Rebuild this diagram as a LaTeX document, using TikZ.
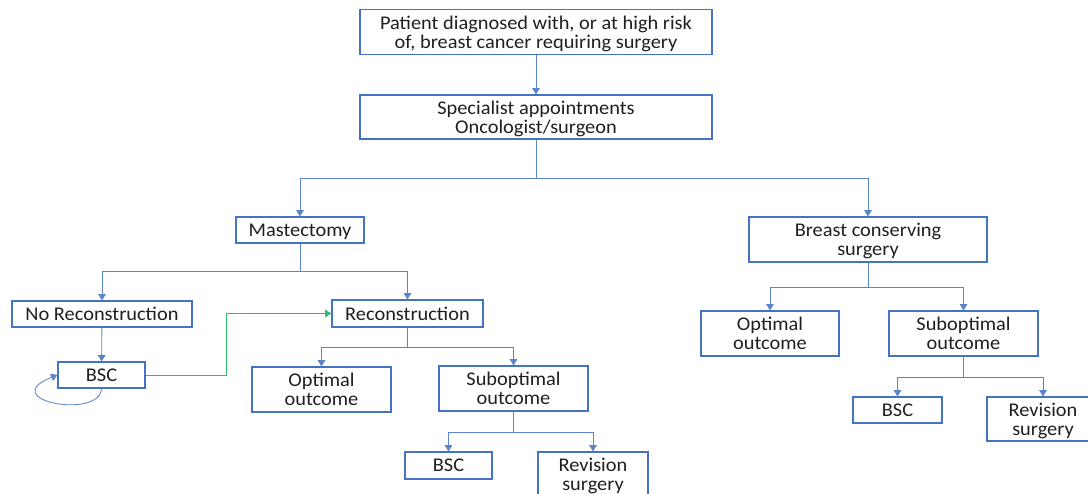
\documentclass[tikz,border=0pt]{standalone}
\usepackage{fontspec}
\setmainfont{Carlito}[FakeStretch=1.05]
\usetikzlibrary{arrows.meta,positioning}

\definecolor{boxblue}{HTML}{4472C4}
\definecolor{lineblue}{HTML}{5B84CC}
\definecolor{loopgreen}{HTML}{2DBE6C}

\tikzset{
  stage/.style 2 args={draw=boxblue,line width=0.9pt,align=center,inner sep=0pt,
    text=black!88,font=\fontsize{13.8}{13.6}\selectfont,text depth=0pt,
    minimum width={#1*0.025cm},minimum height={#2*0.025cm}},
  flow/.style={draw=lineblue,line width=0.6pt,-{Triangle[length=4.5pt,width=5.5pt]}}
}

\begin{document}
\begin{tikzpicture}[x=0.025cm,y=-0.025cm]

\useasboundingbox (0,0) rectangle (1088,494);
\clip (0,0) rectangle (1088,494);

% first two steps
\node[stage={352}{45}] (patient) at (536,32) {Patient diagnosed with, or at high risk\\of, breast cancer requiring surgery};
\node[stage={352}{44}] (specialist) at (536,117) {Specialist appointments\\Oncologist/surgeon};

% the two kinds of surgery
\node[stage={128}{26}] (mastectomy) at (300,230) {Mastectomy};
\node[stage={238}{45}] (conserving) at (868,239.5) {Breast conserving\\surgery};

% mastectomy side
\node[stage={180}{26}] (norecon) at (102,314) {No Reconstruction};
\node[stage={151}{27}] (recon) at (407.5,313.5) {Reconstruction};
\node[stage={87}{26}] (bscleft) at (101.5,375) {BSC};
\node[stage={139}{45}] (optleft) at (321.5,389.5) {Optimal\\outcome};
\node[stage={149}{45}] (subleft) at (513.5,388.5) {Suboptimal\\outcome};
\node[stage={87}{27}] (bscmid) at (448.5,465.5) {BSC};
\node[stage={110}{45}] (revmid) at (593,474.5) {Revision\\surgery};

% conserving side
\node[stage={138}{45}] (optright) at (770,333.5) {Optimal\\outcome};
\node[stage={149}{45}] (subright) at (963.5,333.5) {Suboptimal\\outcome};
\node[stage={89}{26}] (bscright) at (897.5,410) {BSC};
\node[stage={112}{44}] (revright) at (1043,419) {Revision\\surgery};

% From diagnosis to specialist
\draw[flow] (patient) -- (specialist);

% From specialist to surgery
\draw[flow] (specialist.south) -- ++(0,39) -| (mastectomy.north);
\draw[flow] (specialist.south) -- ++(0,39) -| (conserving.north);

% From mastectomy to reconstruction or not
\draw[flow] (mastectomy.south) -- ++(0,28) -| (norecon.north);
\draw[flow] (mastectomy.south) -- ++(0,28) -| (recon.north);

% From no reconstruction to BSC
\draw[flow] (norecon) -- (bscleft);

% BSC to itself
\draw[flow] (bscleft.south) .. controls (100,420) and (-5,400) .. (bscleft.west);

% BSC to reconstruction
\draw[flow,draw=loopgreen] (bscleft.east) -- ++(81,0) |- (recon.west);

% From reconstruction to outcome
\draw[flow] (recon.south) -- ++(0,20) -| (optleft.north);
\draw[flow] (recon.south) -- ++(0,20) -| (subleft.north);

% From suboptimal outcome (left)
\draw[flow] (subleft.south) -- ++(0,21) -| (bscmid.north);
\draw[flow] (subleft.south) -- ++(0,21) -| (revmid.north);

% From conserving surgery to outcome
\draw[flow] (conserving.south) -- ++(0,25) -| (optright.north);
\draw[flow] (conserving.south) -- ++(0,25) -| (subright.north);

% From suboptimal outcome (right)
\draw[flow] (subright.south) -- ++(0,21) -| (bscright.north);
\draw[flow] (subright.south) -- ++(0,21) -| (revright.north);

\end{tikzpicture}
\end{document}
